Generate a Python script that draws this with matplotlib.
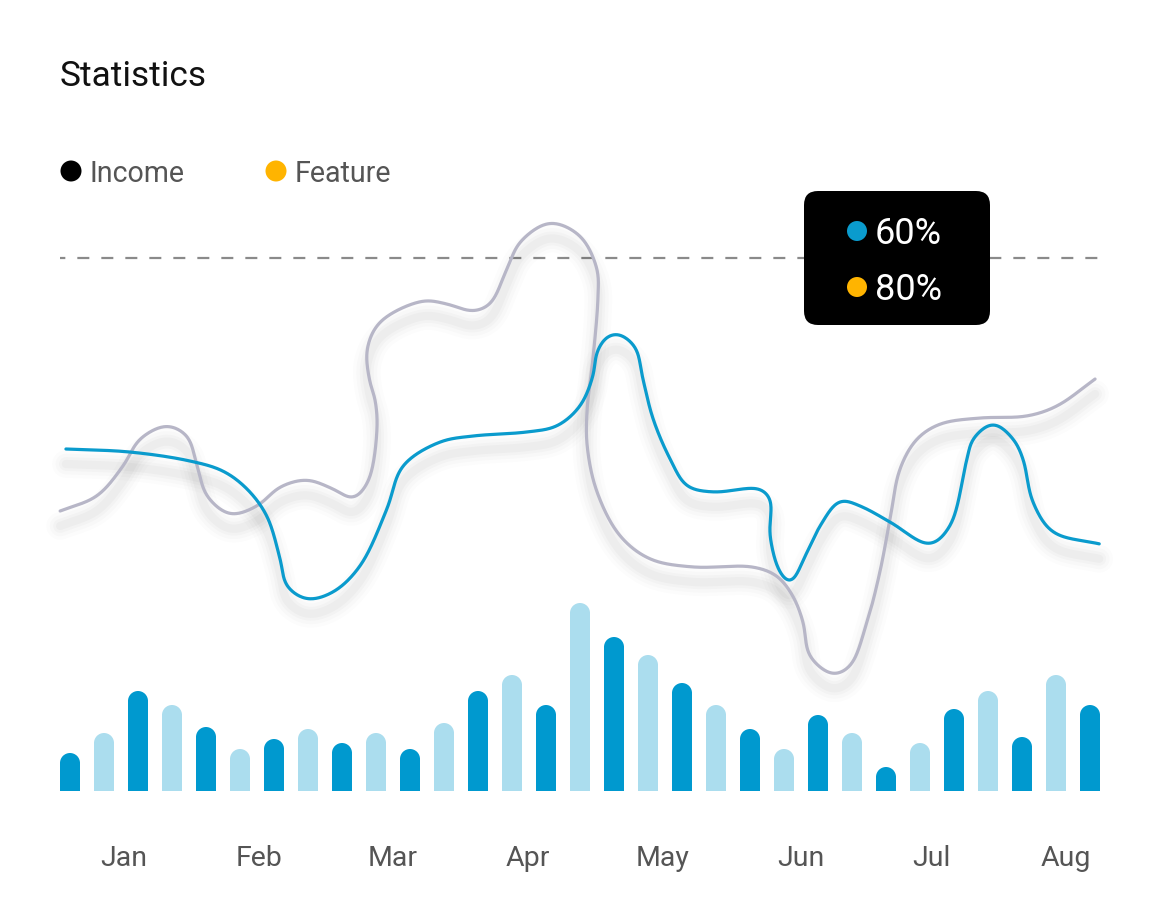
import numpy as np
import matplotlib
matplotlib.use("Agg")
import matplotlib.pyplot as plt
from matplotlib.patches import FancyBboxPatch, Circle, Ellipse
from matplotlib.transforms import IdentityTransform

# ---------------- data ----------------
months = ["Jan", "Feb", "Mar", "Apr", "May", "Jun", "Jul", "Aug"]
month_pos = [1.59, 5.55, 9.5, 13.46, 17.42, 21.5, 25.34, 29.29]

bar_values = [38, 58, 100, 86, 64, 42, 52, 62, 48, 58, 42, 68, 100, 116, 86,
              188, 154, 136, 108, 86, 62, 42, 76, 58, 24, 48, 82, 100, 54, 116, 86]
bar_shade = ["dark" if i % 2 == 0 else "light" for i in range(len(bar_values))]

income_x = [-0.12, 1.76, 3.53, 4.50, 5.21, 5.79, 6.18, 6.38, 6.97, 7.74, 8.53, 9.32,
            9.79, 10.88, 11.85, 13.44, 14.32, 15.00, 15.38, 15.50, 15.79, 16.12,
            16.62, 16.85, 17.15, 17.65, 18.15, 18.91, 20.29, 20.59, 20.59, 20.88,
            21.18, 21.68, 22.06, 22.65, 23.24, 24.12, 25.29, 25.88, 26.38, 26.56,
            27.15, 27.74, 28.03, 28.32, 28.91, 30.29]
income_y = [342, 339, 330, 320, 302, 275, 232, 205, 192, 199, 225, 282,
            325, 349, 355, 359, 365, 385, 415, 439, 454, 457,
            444, 412, 372, 332, 305, 299, 302, 292, 255, 219,
            209, 239, 265, 290, 285, 269, 247, 265, 332, 352,
            367, 352, 332, 289, 259, 247]

feature_x = [-0.29, 0.79, 1.56, 2.06, 2.85, 3.44, 3.74, 4.03, 4.71, 5.50, 6.18,
             6.97, 7.74, 8.32, 8.76, 9.03, 8.97, 8.82, 8.74, 9.12, 10.38, 11.09,
             11.85, 12.35, 12.85, 13.24, 14.12, 15.00, 15.50, 15.53, 15.38, 15.21,
             15.21, 15.50, 16.18, 17.06, 18.32, 20.09, 20.79, 21.26, 21.56, 21.76,
             22.44, 22.94, 23.44, 23.82, 24.12, 24.41, 24.91, 25.59, 26.76, 28.15,
             29.03, 30.15]
feature_y = [280, 295, 325, 352, 365, 355, 325, 295, 277, 285, 304,
             311, 302, 293, 309, 362, 392, 409, 442, 469, 490, 487,
             480, 487, 522, 549, 568, 555, 522, 495, 432, 382,
             345, 299, 255, 232, 224, 224, 215, 195, 169, 135,
             117, 125, 169, 219, 272, 322, 352, 367, 373, 375,
             385, 412]

target_level = 533
tooltip_values = ["60%", "80%"]
legend_labels = ["Income", "Feature"]

# ---------------- style ----------------
W, H = 1158, 912
DARK = "#0099cf"
LIGHT = "#abddee"
BLUE_LINE = "#0a9bcd"
GRAY_LINE = "#b7b6c7"
YELLOW = "#ffb400"
FONT = "Roboto"

fig = plt.figure(figsize=(W / 100, H / 100), dpi=100)
fig.patch.set_facecolor("white")


def fx(px):
    return px / W


def fy(py):
    return 1 - py / H


ax = fig.add_axes([fx(60), fy(792), fx(1100) - fx(60), fy(200) - fy(792)])
ax.set_xlim(-10 / 34, 30 + 10 / 34)
ax.set_ylim(0, 592)
for s in ax.spines.values():
    s.set_visible(False)
ax.set_yticks([])
ax.set_xticks(month_pos)
ax.set_xticklabels(months, fontfamily=FONT, fontsize=20.5, color="#555555")
ax.tick_params(axis="x", length=0, pad=38)
ax.set_facecolor("none")

fig.canvas.draw()
px_per_y = ax.bbox.height / 592
px_per_x = ax.bbox.width / (30 + 20 / 34)

# ---------------- bars ----------------
bar_w_px = 20
bw = bar_w_px / px_per_x
r = (bar_w_px / 2) / px_per_y
xs = np.arange(len(bar_values))
for x, v, sh in zip(xs, bar_values, bar_shade):
    c = DARK if sh == "dark" else LIGHT
    ax.bar(x, v - r, width=bw, color=c, linewidth=0, zorder=2)
    ax.add_patch(Ellipse((x, v - r), bw, 2 * r, color=c, linewidth=0, zorder=2))

# ---------------- dashed target ----------------
ax.plot([-10 / 34, 30 + 10 / 34], [target_level, target_level], color="#8a8a8a",
        lw=1.6, linestyle=(3, (5.4, 5.4)), zorder=1, clip_on=False)


# ---------------- smooth lines ----------------
def catmull_rom(P, n=30, alpha=0.5):
    P = np.asarray(P, float)
    P = np.vstack([2 * P[0] - P[1], P, 2 * P[-1] - P[-2]])
    out = []
    for i in range(len(P) - 3):
        p0, p1, p2, p3 = P[i:i + 4]
        t0 = 0.0
        t1 = t0 + max(np.linalg.norm(p1 - p0), 1e-6) ** alpha
        t2 = t1 + max(np.linalg.norm(p2 - p1), 1e-6) ** alpha
        t3 = t2 + max(np.linalg.norm(p3 - p2), 1e-6) ** alpha
        t = np.linspace(t1, t2, n, endpoint=False)[:, None]
        A1 = (t1 - t) / (t1 - t0) * p0 + (t - t0) / (t1 - t0) * p1
        A2 = (t2 - t) / (t2 - t1) * p1 + (t - t1) / (t2 - t1) * p2
        A3 = (t3 - t) / (t3 - t2) * p2 + (t - t2) / (t3 - t2) * p3
        B1 = (t2 - t) / (t2 - t0) * A1 + (t - t0) / (t2 - t0) * A2
        B2 = (t3 - t) / (t3 - t1) * A2 + (t - t1) / (t3 - t1) * A3
        C = (t2 - t) / (t2 - t1) * B1 + (t - t1) / (t2 - t1) * B2
        out.append(C)
    out.append(P[-2][None])
    return np.vstack(out)


def gauss_smooth(P, sigma=6.0):
    d = np.r_[0, np.cumsum(np.linalg.norm(np.diff(P, axis=0), axis=1))]
    s = np.arange(0, d[-1], 1.0)
    R = np.column_stack([np.interp(s, d, P[:, 0]), np.interp(s, d, P[:, 1])])
    k = int(3 * sigma)
    pad_l = 2 * R[0] - R[1:k + 1][::-1]
    pad_r = 2 * R[-1] - R[-k - 1:-1][::-1]
    Rp = np.vstack([pad_l, R, pad_r])
    g = np.exp(-0.5 * (np.arange(-k, k + 1) / sigma) ** 2)
    g /= g.sum()
    return np.column_stack([np.convolve(Rp[:, 0], g, mode="valid"),
                            np.convolve(Rp[:, 1], g, mode="valid")])


def smooth(xv, yv):
    disp = ax.transData.transform(np.column_stack([xv, yv]))
    sm = gauss_smooth(catmull_rom(disp), 5.0)
    back = ax.transData.inverted().transform(sm)
    return back[:, 0], back[:, 1]


shadow_off = 15 / px_per_y
for (xv, yv, col, z) in [(feature_x, feature_y, GRAY_LINE, 4), (income_x, income_y, BLUE_LINE, 5)]:
    sx, sy = smooth(xv, yv)
    for lw, a in [(20, 0.01), (15, 0.014), (10, 0.018), (6, 0.022)]:
        ax.plot(sx, sy - shadow_off, color="#000000", alpha=a, lw=lw,
                solid_capstyle="round", zorder=3, clip_on=False)
    ax.plot(sx, sy, color=col, lw=2.3, solid_capstyle="round", zorder=z, clip_on=False)

# ---------------- title & legend ----------------
fig.text(fx(60), fy(76), "Statistics", fontfamily=FONT, fontsize=25.4,
         color="#111111", va="center", ha="left")

ident = IdentityTransform()
legend_colors = ["#000000", YELLOW]
legend_x = [71, 276]
for lx, lab, c in zip(legend_x, legend_labels, legend_colors):
    fig.add_artist(Circle((lx, H - 172), 10.5, color=c, transform=ident, linewidth=0))
    fig.text(fx(lx + 19), fy(174), lab, fontfamily=FONT, fontsize=20.6,
             color="#555555", va="center", ha="left")

# ---------------- tooltip ----------------
box = FancyBboxPatch((804, H - 326), 186, 134,
                     boxstyle="round,pad=0,rounding_size=14",
                     facecolor="black", edgecolor="none", transform=ident, zorder=10)
fig.add_artist(box)
tip_colors = [BLUE_LINE, YELLOW]
tip_y = [232, 288]
for ty, txt, c in zip(tip_y, tooltip_values, tip_colors):
    fig.add_artist(Circle((857, H - ty), 10, color=c, transform=ident, linewidth=0, zorder=11))
    fig.text(fx(875), fy(ty + 2), txt, fontfamily=FONT, fontsize=26,
             color="white", va="center", ha="left", zorder=12)

fig.savefig("out.png", dpi=100, facecolor="white")
